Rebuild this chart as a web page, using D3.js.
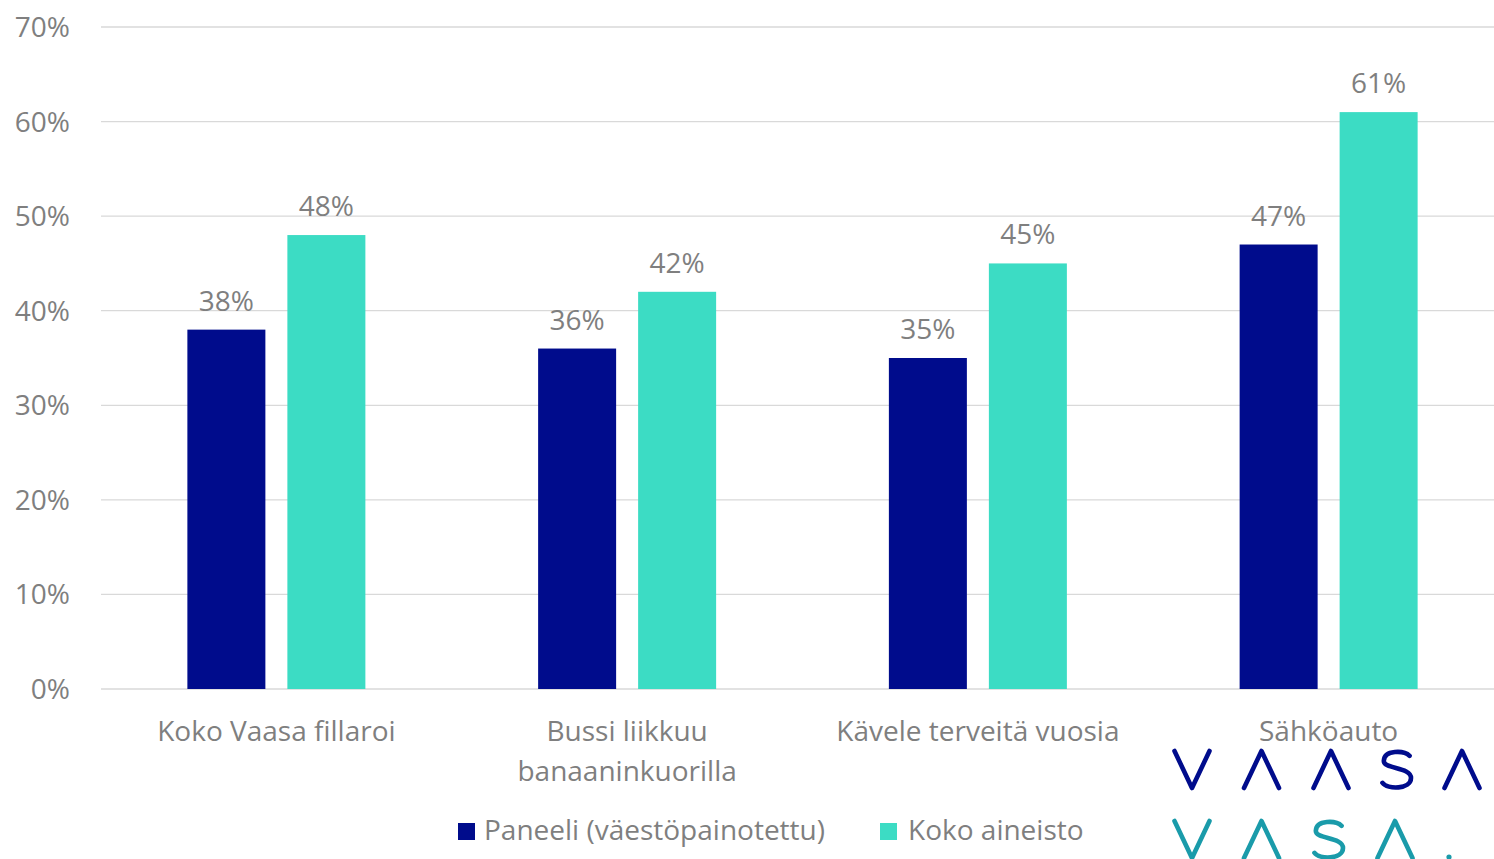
<!DOCTYPE html>
<html><head><meta charset="utf-8">
<script src="https://cdn.jsdelivr.net/npm/d3@7"></script>
<style>
html,body{margin:0;padding:0;background:#fff;overflow:hidden;}
svg{display:block;font-family:"Open Sans",sans-serif;}
</style></head>
<body>
<svg id="chart" width="1494" height="859"></svg>
<script>
const categories = [["Koko Vaasa fillaroi"], ["Bussi liikkuu", "banaaninkuorilla"], ["Kävele terveitä vuosia"], ["Sähköauto"]];
const seriesNames = ["Paneeli (väestöpainotettu)", "Koko aineisto"];
const panel = [38, 36, 35, 47];
const koko = [48, 42, 45, 61];
const yTicks = [0, 10, 20, 30, 40, 50, 60, 70];
const colors = ["#000C8C", "#3CDCC4"];
const logoRow1 = ["V", "Λ", "Λ", "S", "Λ"];
const logoRow2 = ["V", "Λ", "S", "Λ", "."];

(function () {
const svg = d3.select("#chart");
const grey = "#7f7f7f";
const fs = "28px";
const mLeft = 101, mRight = 1504, gridRight = 1494, mTop = 27, mBottom = 689;

const x0 = d3.scaleBand().domain(d3.range(categories.length)).range([mLeft, mRight]).paddingInner(0).paddingOuter(0);
const y = d3.scaleLinear().domain([0, 70]).range([mBottom, mTop]);

svg.append("g").selectAll("line").data(yTicks).join("line")
  .attr("x1", mLeft).attr("x2", gridRight)
  .attr("y1", d => y(d)).attr("y2", d => y(d))
  .attr("stroke", "#d9d9d9").attr("stroke-width", 1.3);

svg.append("g").selectAll("text").data(yTicks).join("text")
  .attr("x", 70).attr("y", d => y(d) + 10)
  .attr("text-anchor", "end").attr("fill", grey)
  .style("font-size", fs).text(d => d + "%");

const x1 = d3.scaleBand().domain([0, 1]).range([-89, 89]).paddingInner(0.22).paddingOuter(0);
const series = [panel, koko];
series.forEach((vals, si) => {
  const g = svg.append("g");
  g.selectAll("rect").data(vals).join("rect")
    .attr("x", (d, i) => x0(i) + x0.bandwidth() / 2 + x1(si))
    .attr("width", x1.bandwidth())
    .attr("y", d => y(d)).attr("height", d => mBottom - y(d))
    .attr("fill", colors[si]);
  g.selectAll("text").data(vals).join("text")
    .attr("x", (d, i) => x0(i) + x0.bandwidth() / 2 + x1(si) + x1.bandwidth() / 2)
    .attr("y", d => y(d) - 19)
    .attr("text-anchor", "middle").attr("fill", grey)
    .style("font-size", fs).text(d => d + "%");
});

const cat = svg.append("g").selectAll("text").data(categories).join("text")
  .attr("x", (d, i) => x0(i) + x0.bandwidth() / 2)
  .attr("y", 741).attr("text-anchor", "middle").attr("fill", grey)
  .style("font-size", fs);
cat.each(function(d) {
  const t = d3.select(this);
  d.forEach((line, li) => {
    t.append("tspan").attr("x", t.attr("x")).attr("dy", li === 0 ? 0 : 40).text(line);
  });
});

const leg = [{x: 458, tx: 484}, {x: 880, tx: 908}];
seriesNames.forEach((n, i) => {
  svg.append("rect").attr("x", leg[i].x).attr("y", 823).attr("width", 17).attr("height", 17).attr("fill", colors[i]);
  svg.append("text").attr("x", leg[i].tx).attr("y", 840).attr("fill", grey).style("font-size", fs).text(n);
});

// logo (drawn as strokes)
const logo = svg.append("g");
function drawLetter(ch, cx, ytop, h, col) {
  const w = 35;
  let dStr = null;
  if (ch === "V") {
    dStr = d3.line()([[cx - w/2, ytop], [cx, ytop + h], [cx + w/2, ytop]]);
  } else if (ch === "Λ") {
    dStr = d3.line()([[cx - w/2, ytop + h], [cx, ytop], [cx + w/2, ytop + h]]);
  } else if (ch === "S") {
    const sw = 28, x = cx - sw / 2, p = d3.path();
    p.moveTo(x + sw * 0.95, y0(ytop, h, 0.13));
    p.bezierCurveTo(x + sw * 0.75, ytop - h * 0.02, x + sw * 0.05, ytop - h * 0.04, x + sw * 0.03, ytop + h * 0.26);
    p.bezierCurveTo(x + sw * 0.0, ytop + h * 0.5, x + sw * 1.0, ytop + h * 0.42, x + sw * 1.0, ytop + h * 0.73);
    p.bezierCurveTo(x + sw * 1.0, ytop + h * 1.04, x + sw * 0.15, ytop + h * 1.05, x - sw * 0.02, ytop + h * 0.86);
    dStr = p.toString();
  }
  if (dStr) {
    logo.append("path").attr("d", dStr).attr("fill", "none")
      .attr("stroke", col).attr("stroke-width", 4.6).attr("stroke-linecap", "round").attr("stroke-linejoin", "round");
  } else {
    logo.append("circle").attr("cx", cx).attr("cy", ytop + h - 1).attr("r", 2.6).attr("fill", col);
  }
}
function y0(t, h, f) { return t + h * f; }
const r1x = [1192, 1261.5, 1331, 1397, 1462];
logoRow1.forEach((c, i) => drawLetter(c, r1x[i], 751, 37, "#000C8C"));
const r2x = [1192, 1261.5, 1329, 1395, 1449];
logoRow2.forEach((c, i) => drawLetter(c, r2x[i], 821, 37, "#1A9BAA"));
})();
</script>
</body></html>
